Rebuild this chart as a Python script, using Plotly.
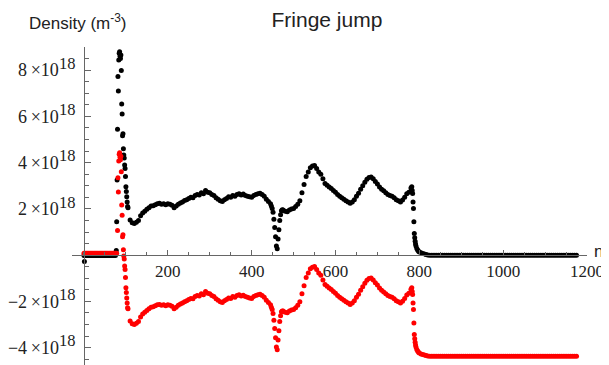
import plotly.graph_objects as go

# Density values in units of 10^18 m^-3, sample index n on the x axis.

# --- black series (raw) ---
black_pre_n = [1] + list(range(0, 76, 3))
black_pre_v = [-0.28,
               -0.02, -0.02, -0.02, -0.02, -0.02, -0.02, -0.02, -0.02, -0.02, -0.02, -0.02, -0.02, -0.02,
               -0.02, -0.02, -0.02, -0.02, -0.02, -0.02, -0.02, -0.02, -0.02, -0.02, -0.02, -0.02, -0.02]

black_spike_n = list(range(77, 105))
black_spike_v = [0.20, 1.44, 3.25, 5.44, 7.72, 7.10, 8.44, 8.73, 8.80, 8.60,
                 8.50, 8.65, 7.98, 6.54, 6.10, 5.16, 5.25, 4.60, 4.33, 4.20,
                 3.90, 3.75, 3.40, 2.96, 2.75, 2.52, 2.30, 2.10]

black_main1_n = list(range(105, 446, 5))
black_main1_v = [2.05, 1.52, 1.40, 1.37, 1.42, 1.50, 1.70, 1.82, 1.90,
                 1.98, 2.05, 2.12, 2.14, 2.18, 2.22, 2.24, 2.20, 2.22, 2.18,
                 2.22, 2.20, 2.16, 2.05, 2.12, 2.20, 2.26, 2.30, 2.36, 2.40,
                 2.45, 2.50, 2.48, 2.58, 2.62, 2.60, 2.70, 2.66, 2.80, 2.72,
                 2.70, 2.62, 2.58, 2.48, 2.42, 2.35, 2.32, 2.40, 2.45, 2.52,
                 2.50, 2.58, 2.55, 2.62, 2.66, 2.60, 2.64, 2.58, 2.55, 2.52,
                 2.50, 2.58, 2.62, 2.66, 2.68, 2.62, 2.55, 2.42, 2.32, 2.22]

black_dip_n = list(range(447, 474, 2))
black_dip_v = [2.12, 2.02, 1.85, 1.55, 1.20, 0.80, 0.40, 0.28, 0.70, 1.10, 1.50, 1.75, 1.92, 1.96]

black_main2_n = list(range(475, 781, 5))
black_main2_v = [1.95, 1.90, 1.88, 1.95, 2.00, 2.02, 2.10, 2.20, 2.35, 2.70,
                 3.05, 3.40, 3.60, 3.78, 3.85, 3.88, 3.75, 3.60, 3.50, 3.30,
                 3.10, 3.02, 2.95, 2.88, 2.80, 2.72, 2.62, 2.55, 2.48, 2.42,
                 2.35, 2.30, 2.24, 2.30, 2.40, 2.55, 2.68, 2.85, 3.00, 3.15,
                 3.28, 3.36, 3.38, 3.30, 3.18, 3.08, 2.95, 2.85, 2.78, 2.70,
                 2.62, 2.58, 2.55, 2.48, 2.40, 2.35, 2.30, 2.38, 2.50, 2.65,
                 2.72, 2.90]

drop_n = [782, 783, 784, 785, 786, 787, 788, 789, 790, 791,
          792, 794, 796, 798, 800, 804, 808, 812, 816, 820]
black_drop_v = [2.96, 2.80, 2.67, 2.30, 2.02, 1.44, 0.94, 0.75, 0.60, 0.48,
                0.40, 0.29, 0.22, 0.17, 0.14, 0.10, 0.07, 0.05, 0.03, 0.01]

tail_n = list(range(825, 1176, 5))
black_tail_v = [0.0, 0.0, 0.0, 0.0, 0.0, 0.0, 0.0, 0.0, 0.0, 0.0, 0.0, 0.0,
                0.0, 0.0, 0.0, 0.0, 0.0, 0.0, 0.0, 0.0, 0.0, 0.0, 0.0, 0.0,
                0.0, 0.0, 0.0, 0.0, 0.0, 0.0, 0.0, 0.0, 0.0, 0.0, 0.0, 0.0,
                0.0, 0.0, 0.0, 0.0, 0.0, 0.0, 0.0, 0.0, 0.0, 0.0, 0.0, 0.0,
                0.0, 0.0, 0.0, 0.0, 0.0, 0.0, 0.0, 0.0, 0.0, 0.0, 0.0, 0.0,
                0.0, 0.0, 0.0, 0.0, 0.0, 0.0, 0.0, 0.0, 0.0, 0.0, 0.0]

# --- red series (after fringe-jump correction) ---
red_pre_n = list(range(0, 79, 3))
red_pre_v = [0.08, 0.08, 0.08, 0.08, 0.08, 0.08, 0.08, 0.08, 0.08, 0.08, 0.08, 0.08, 0.08, 0.08,
             0.08, 0.08, 0.08, 0.08, 0.08, 0.08, 0.08, 0.08, 0.08, 0.08, 0.08, 0.08, 0.08]

red_spike_n = list(range(80, 105))
red_spike_v = [1.07, 3.35, 2.73, 4.07, 4.36, 4.43, 4.23, 4.13, 4.28, 3.61,
               2.17, 1.73, 0.79, 0.88, 0.23, -0.04, -0.17, -0.47, -0.62, -0.97,
               -1.41, -1.62, -1.85, -2.07, -2.27]

red_main1_v = [-2.32, -2.85, -2.97, -3.00, -2.95, -2.87, -2.67, -2.55, -2.47,
               -2.39, -2.32, -2.25, -2.23, -2.19, -2.15, -2.13, -2.17, -2.15, -2.19,
               -2.15, -2.17, -2.21, -2.32, -2.25, -2.17, -2.11, -2.07, -2.01, -1.97,
               -1.92, -1.87, -1.89, -1.79, -1.75, -1.77, -1.67, -1.71, -1.57, -1.65,
               -1.67, -1.75, -1.79, -1.89, -1.95, -2.02, -2.05, -1.97, -1.92, -1.85,
               -1.87, -1.79, -1.82, -1.75, -1.71, -1.77, -1.73, -1.79, -1.82, -1.85,
               -1.87, -1.79, -1.75, -1.71, -1.69, -1.75, -1.82, -1.95, -2.05, -2.15]

red_dip_v = [-2.25, -2.35, -2.52, -2.82, -3.17, -3.57, -3.97, -4.09, -3.67, -3.27,
             -2.87, -2.62, -2.45, -2.41]

red_main2_v = [-2.42, -2.47, -2.49, -2.42, -2.37, -2.35, -2.27, -2.17, -2.02, -1.67,
               -1.32, -0.97, -0.77, -0.59, -0.52, -0.49, -0.62, -0.77, -0.87, -1.07,
               -1.27, -1.35, -1.42, -1.49, -1.57, -1.65, -1.75, -1.82, -1.89, -1.95,
               -2.02, -2.07, -2.13, -2.07, -1.97, -1.82, -1.69, -1.52, -1.37, -1.22,
               -1.09, -1.01, -0.99, -1.07, -1.19, -1.29, -1.42, -1.52, -1.59, -1.67,
               -1.75, -1.79, -1.82, -1.89, -1.97, -2.02, -2.07, -1.99, -1.87, -1.72,
               -1.65, -1.47]

red_drop_v = [-1.41, -1.57, -1.70, -2.07, -2.35, -2.93, -3.43, -3.62, -3.77, -3.89,
              -3.97, -4.08, -4.15, -4.20, -4.23, -4.27, -4.30, -4.32, -4.34, -4.36]

red_tail_v = [-4.37, -4.37, -4.37, -4.37, -4.37, -4.37, -4.37, -4.37, -4.37, -4.37, -4.37, -4.37,
              -4.37, -4.37, -4.37, -4.37, -4.37, -4.37, -4.37, -4.37, -4.37, -4.37, -4.37, -4.37,
              -4.37, -4.37, -4.37, -4.37, -4.37, -4.37, -4.37, -4.37, -4.37, -4.37, -4.37, -4.37,
              -4.37, -4.37, -4.37, -4.37, -4.37, -4.37, -4.37, -4.37, -4.37, -4.37, -4.37, -4.37,
              -4.37, -4.37, -4.37, -4.37, -4.37, -4.37, -4.37, -4.37, -4.37, -4.37, -4.37, -4.37,
              -4.37, -4.37, -4.37, -4.37, -4.37, -4.37, -4.37, -4.37, -4.37, -4.37, -4.37]

# tick labels
SUP = "<sup><span style='font-size:16.5px'>18</span></sup>"
y_tickvals = [-4, -2, 2, 4, 6, 8]
y_ticktext = ["\u22124\u2009\u00d710" + SUP, "\u22122\u2009\u00d710" + SUP,
              "2\u2009\u00d710" + SUP, "4\u2009\u00d710" + SUP,
              "6\u2009\u00d710" + SUP, "8\u2009\u00d710" + SUP]
x_tickvals = [200, 400, 600, 800, 1000, 1200]
x_ticktext = ["200", "400", "600", "800", "1000", "1200"]

black_n = black_pre_n + black_spike_n + black_main1_n + black_dip_n + black_main2_n + drop_n + tail_n
black_v = black_pre_v + black_spike_v + black_main1_v + black_dip_v + black_main2_v + black_drop_v + black_tail_v
red_n = red_pre_n + red_spike_n + black_main1_n + black_dip_n + black_main2_n + drop_n + tail_n
red_v = red_pre_v + red_spike_v + red_main1_v + red_dip_v + red_main2_v + red_drop_v + red_tail_v
assert len(black_n) == len(black_v), (len(black_n), len(black_v))
assert len(red_n) == len(red_v), (len(red_n), len(red_v))

XMIN, XMAX = -28.6, 1200
YMIN, YMAX = -4.75, 9.0

SERIF = "Liberation Serif, Times New Roman, Times, serif"
SANS = "Liberation Sans, Arial, Helvetica, sans-serif"

# The page body has an 8px default margin, so the figure is 8px smaller than the window.
W, H = 601, 357
L, R, T, B = 64, 22, 39, 0
PW, PH = W - L - R, H - T - B

fig = go.Figure()
fig.add_trace(go.Scatter(x=black_n, y=black_v, mode="markers",
                         marker=dict(color="black", size=5, line=dict(width=0)),
                         showlegend=False, hoverinfo="skip"))
fig.add_trace(go.Scatter(x=red_n, y=red_v, mode="markers",
                         marker=dict(color="#ff0000", size=5, line=dict(width=0)),
                         showlegend=False, hoverinfo="skip"))

axis_col = "#666666"
fig.update_layout(
    width=W, height=H,
    margin=dict(l=L, r=R, t=T, b=B, pad=0),
    paper_bgcolor="white", plot_bgcolor="white",
    title=dict(text="Fringe jump", x=0.495, xref="paper", xanchor="center",
               y=1.0 - 4.5 / H, yref="container", yanchor="top",
               font=dict(family=SANS, size=21, color="#222")),
    xaxis=dict(range=[XMIN, XMAX], anchor="free",
               position=(0 - YMIN) / (YMAX - YMIN),
               showline=True, linecolor=axis_col, linewidth=1,
               showgrid=False, zeroline=False,
               tickmode="array", tickvals=x_tickvals, ticktext=x_ticktext,
               ticks="inside", ticklen=5, tickcolor=axis_col, tickwidth=1,
               tickfont=dict(family=SERIF, size=17, color="#222"),
               ticklabeloverflow="allow",
               minor=dict(tickmode="linear", tick0=0, dtick=50, ticks="inside",
                          ticklen=3.5, tickcolor=axis_col, showgrid=False),
               automargin=False),
    yaxis=dict(range=[YMIN, YMAX], anchor="free",
               position=(0 - XMIN) / (XMAX - XMIN),
               showline=True, linecolor=axis_col, linewidth=1,
               showgrid=False, zeroline=False,
               tickmode="array", tickvals=y_tickvals, ticktext=y_ticktext,
               ticks="inside", ticklen=6, tickcolor=axis_col, tickwidth=1,
               tickfont=dict(family=SERIF, size=18, color="#222"),
               ticklabeloverflow="allow", ticklabelstandoff=5,
               minor=dict(tickmode="linear", tick0=0, dtick=0.5, ticks="inside",
                          ticklen=4, tickcolor=axis_col, showgrid=False),
               automargin=False),
    annotations=[
        dict(text="Density (m<sup>-3</sup>)", xref="paper", yref="paper",
             x=(19 - L) / PW, y=(H - 14) / PH, xanchor="left", yanchor="middle",
             showarrow=False, font=dict(family=SANS, size=17, color="#222")),
        dict(text="n", xref="paper", yref="y", x=1.0, y=0, xshift=5, yshift=4,
             xanchor="left", yanchor="middle", showarrow=False,
             font=dict(family=SANS, size=17, color="#222")),
    ],
)

fig.write_html("out.html")
